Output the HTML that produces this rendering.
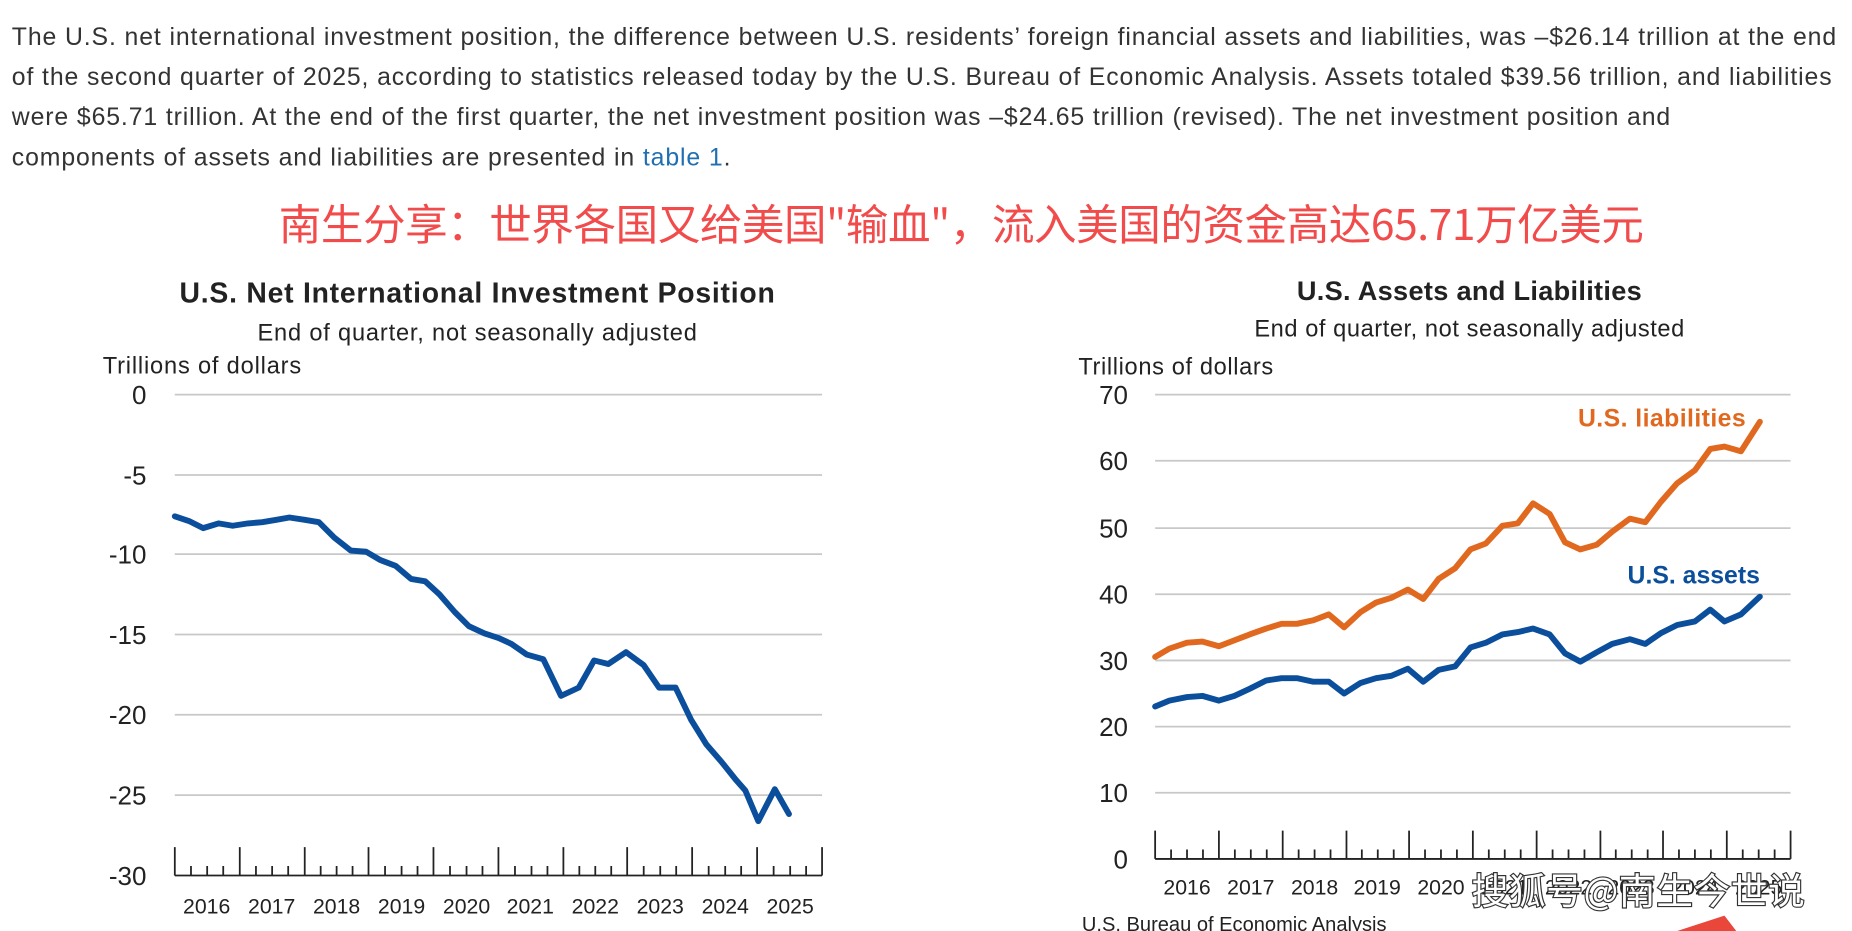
<!DOCTYPE html>
<html><head><meta charset="utf-8"><style>
html,body{margin:0;padding:0;background:#fff;overflow:hidden}
#w{position:absolute;left:0;top:0;width:1568px;height:788px;transform:scale(1.18112,1.18147);transform-origin:0 0;font-family:"Liberation Sans","Noto Sans CJK SC",sans-serif}
.p{position:absolute;left:10px;top:15px;font-size:21px;line-height:34px;color:#333;white-space:nowrap;letter-spacing:0.75px}
.p a{color:#1f6fb2;text-decoration:none}
.red{position:absolute;left:236px;top:162px;font-size:36px;color:#f24b4b;font-family:"Noto Sans CJK SC",sans-serif;white-space:nowrap;letter-spacing:-0.35px}
svg{position:absolute;left:0;top:0}
</style></head><body><div id="w">
<div class="p">The U.S. net international investment position, the difference between U.S. residents’ foreign financial assets and liabilities, was –$26.14 trillion at the end<br>of the second quarter of 2025, according to statistics released today by the U.S. Bureau of Economic Analysis. Assets totaled $39.56 trillion, and liabilities<br>were $65.71 trillion. At the end of the first quarter, the net investment position was –$24.65 trillion (revised). The net investment position and<br>components of assets and liabilities are presented in <a>table 1</a>.</div>
<div class="red">南生分享：世界各国又给美国"输血"，流入美国的资金高达65.71万亿美元</div>
<svg width="1568" height="788" font-family="Liberation Sans, sans-serif">
<g fill="#222" text-anchor="middle">
<text x="404" y="256" font-size="24" font-weight="bold" textLength="504">U.S. Net International Investment Position</text>
<text x="404" y="288" font-size="20" textLength="372">End of quarter, not seasonally adjusted</text>
<text x="1244" y="254" font-size="23" font-weight="bold" textLength="292">U.S. Assets and Liabilities</text>
<text x="1244" y="285" font-size="20" textLength="364">End of quarter, not seasonally adjusted</text>
</g>
<g fill="#222" font-size="20">
<text x="87" y="316" textLength="168">Trillions of dollars</text>
<text x="913" y="317" textLength="165">Trillions of dollars</text>
<text x="916" y="788" font-size="17">U.S. Bureau of Economic Analysis</text>
</g>
<g stroke="#c8c8c8" stroke-width="1.5">
<line x1="148" x2="696" y1="334" y2="334"/><line x1="148" x2="696" y1="402" y2="402"/><line x1="148" x2="696" y1="469" y2="469"/><line x1="148" x2="696" y1="537" y2="537"/><line x1="148" x2="696" y1="605" y2="605"/><line x1="148" x2="696" y1="673" y2="673"/>
<line x1="978" x2="1516" y1="334" y2="334"/><line x1="978" x2="1516" y1="390" y2="390"/><line x1="978" x2="1516" y1="447" y2="447"/><line x1="978" x2="1516" y1="503" y2="503"/><line x1="978" x2="1516" y1="559" y2="559"/><line x1="978" x2="1516" y1="615" y2="615"/><line x1="978" x2="1516" y1="671" y2="671"/>
</g>
<g fill="#222" font-size="22" text-anchor="end">
<text x="124" y="342">0</text><text x="124" y="410">-5</text><text x="124" y="477">-10</text><text x="124" y="545">-15</text><text x="124" y="613">-20</text><text x="124" y="681">-25</text><text x="124" y="749">-30</text>
<text x="955" y="342">70</text><text x="955" y="398">60</text><text x="955" y="455">50</text><text x="955" y="511">40</text><text x="955" y="567">30</text><text x="955" y="623">20</text><text x="955" y="679">10</text><text x="955" y="735">0</text>
</g>
<g stroke="#222" stroke-width="1.5" fill="none">
<path d="M148 741H696M148 741v-24M203 741v-24M258 741v-24M312 741v-24M367 741v-24M422 741v-24M477 741v-24M531 741v-24M586 741v-24M641 741v-24M696 741v-24"/>
<path d="M161.7 741v-8M175.4 741v-8M189 741v-8M216.7 741v-8M230.4 741v-8M244 741v-8M271.5 741v-8M285 741v-8M298.5 741v-8M326 741v-8M340 741v-8M353.5 741v-8M381 741v-8M395 741v-8M408.5 741v-8M436 741v-8M450 741v-8M463.5 741v-8M490.5 741v-8M504 741v-8M517.5 741v-8M545 741v-8M559 741v-8M572.5 741v-8M600 741v-8M614 741v-8M627.5 741v-8M655 741v-8M669 741v-8M682.5 741v-8"/>
<path d="M978 727H1516M978 727v-24M1032 727v-24M1086 727v-24M1140 727v-24M1193 727v-24M1247 727v-24M1301 727v-24M1355 727v-24M1408 727v-24M1462 727v-24M1516 727v-24"/>
<path d="M991.5 727v-8M1005 727v-8M1018.5 727v-8M1045.5 727v-8M1059 727v-8M1072.5 727v-8M1099.5 727v-8M1113 727v-8M1126.5 727v-8M1153 727v-8M1166.5 727v-8M1180 727v-8M1206.5 727v-8M1220 727v-8M1233.5 727v-8M1260.5 727v-8M1274 727v-8M1287.5 727v-8M1314.5 727v-8M1328 727v-8M1341.5 727v-8M1368 727v-8M1381.5 727v-8M1395 727v-8M1421.5 727v-8M1435 727v-8M1448.5 727v-8M1475.5 727v-8M1489 727v-8M1502.5 727v-8"/>
</g>
<g fill="#222" font-size="18" text-anchor="middle">
<text x="175" y="773">2016</text><text x="230" y="773">2017</text><text x="285" y="773">2018</text><text x="340" y="773">2019</text><text x="395" y="773">2020</text><text x="449" y="773">2021</text><text x="504" y="773">2022</text><text x="559" y="773">2023</text><text x="614" y="773">2024</text><text x="669" y="773">2025</text>
<text x="1005" y="757">2016</text><text x="1059" y="757">2017</text><text x="1113" y="757">2018</text><text x="1166" y="757">2019</text><text x="1220" y="757">2020</text><text x="1274" y="757">2021</text><text x="1328" y="757">2022</text><text x="1381" y="757">2023</text><text x="1435" y="757">2024</text><text x="1489" y="757">2025</text>
</g>
<g fill="none" stroke-width="5" stroke-linejoin="round" stroke-linecap="round">
<polyline stroke="#0b4f9c" points="148,437 160,441 172,447 185,443 197,445 210,443 222,442 234,440 245,438 258,440 270,442 283,455 297,466 310,467 322,474 335,479 348,490 360,492 372,503 385,518 397,530 410,536 422,540 433,545 446,554 460,558 475,589 490,582 503,559 515,562 530,552 545,563 558,582 572,582 585,609 598,630 611,645 623,660 631,669 642,695 656,668 668,689"/>
<polyline stroke="#e0691f" points="978,556 990,549 1005,544 1018,543 1032,547 1045,542 1058,537 1072,532 1085,528 1098,528 1112,525 1125,520 1138,531 1152,518 1165,510 1178,506 1192,499 1205,507 1218,490 1232,481 1245,465 1258,460 1272,445 1285,443 1298,426 1312,435 1325,459 1338,465 1352,461 1365,450 1380,439 1393,442 1406,425 1420,409 1435,398 1448,380 1460,378 1474,382 1490,357"/>
<polyline stroke="#0b4f9c" points="978,598 990,593 1005,590 1018,589 1032,593 1045,589 1058,583 1072,576 1085,574 1098,574 1112,577 1125,577 1138,587 1152,578 1165,574 1178,572 1192,566 1205,577 1218,567 1232,564 1245,548 1258,544 1272,537 1285,535 1298,532 1312,537 1325,553 1338,560 1352,552 1365,545 1380,541 1393,545 1406,536 1420,529 1435,526 1448,516 1460,526 1474,520 1490,505"/>
</g>
<text x="1478" y="361" text-anchor="end" font-size="21" font-weight="bold" fill="#e0691f" textLength="142">U.S. liabilities</text>
<text x="1490" y="494" text-anchor="end" font-size="21" font-weight="bold" fill="#0b4f9c">U.S. assets</text>
<text x="1246" y="765" font-size="31" fill="#fff" stroke="#333" stroke-width="2" paint-order="stroke" font-family="Noto Sans CJK SC, sans-serif" textLength="282">搜狐号@南生今世说</text>
<path d="M1420 788 L1460 775 L1470 788Z" fill="#e8473a"/>
</svg>
</div></body></html>
